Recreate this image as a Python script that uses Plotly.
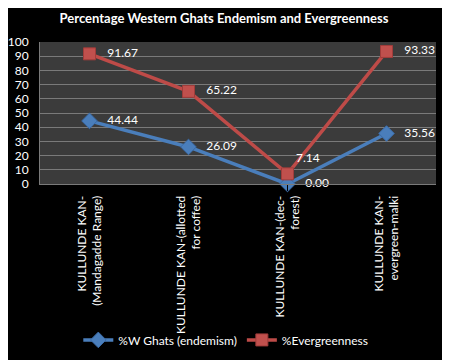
import plotly.graph_objects as go

categories = ["KULLUNDE KAN-<br>(Mandagadde Range)", "KULLUNDE KAN-(allotted<br>for coffee)",
              "KULLUNDE KAN-(dec-<br>forest)", "KULLUNDE KAN-<br>evergreen-malki"]
endemism = [44.44, 26.09, 0.00, 35.56]
evergreen = [91.67, 65.22, 7.14, 93.33]
end_labels = ["   44.44", "   26.09", "   0.00", "   35.56"]
ever_labels = ["   91.67", "   65.22", "7.14", "   93.33"]

font = "Lato, 'Open Sans', sans-serif"
fig = go.Figure()
fig.add_trace(go.Scatter(
    x=categories, y=endemism, name="%W Ghats (endemism)", mode="lines+markers+text",
    line=dict(color="#4a7ebb", width=3.5),
    marker=dict(symbol="diamond", size=12, color="#4a7ebb", line=dict(color="#3a6aa6", width=1)),
    text=end_labels, textposition=["middle right", "middle right", "middle right", "middle right"],
    textfont=dict(color="white", size=12, family=font), cliponaxis=False))
fig.add_trace(go.Scatter(
    x=categories, y=evergreen, name="%Evergreenness", mode="lines+markers+text",
    line=dict(color="#be4b48", width=3.5),
    marker=dict(symbol="square", size=12, color="#c0504d", line=dict(color="#a03c3a", width=1)),
    text=ever_labels, textposition=["middle right", "middle right", "top right", "middle right"],
    textfont=dict(color="white", size=12, family=font), cliponaxis=False))

fig.update_layout(
    width=450, height=360,
    paper_bgcolor="black", plot_bgcolor="#3b3b3b",
    margin=dict(l=32, r=22, t=34, b=184, autoexpand=False),
    title=dict(text="<b>Percentage Western Ghats Endemism and Evergreenness</b>",
               xref="container", x=0.48, xanchor="center", yref="container", y=0.972,
               yanchor="middle", font=dict(color="white", size=13, family=font), automargin=False),
    font=dict(color="white", family=font, size=12),
    legend=dict(orientation="h", xref="container", x=0.484, xanchor="center", yref="container",
                y=0.078, yanchor="middle", font=dict(color="white", size=12, family=font),
                bgcolor="rgba(0,0,0,0)"),
    xaxis=dict(showgrid=False, tickangle=-90, tickfont=dict(color="white", size=12, family=font),
               showline=True, linecolor="#7a7a7a", ticks="outside", ticklen=6, tickcolor="black",
               range=[-0.5, 3.5], automargin=False),
    yaxis=dict(range=[0, 100], dtick=10, showgrid=True, gridcolor="#7a7a7a", gridwidth=1,
               tickfont=dict(color="white", size=12, family=font), zeroline=False,
               showline=True, linecolor="#7a7a7a", ticks="outside", ticklen=8, tickcolor="black",
               automargin=False),
)
fig.write_html("out.html")
